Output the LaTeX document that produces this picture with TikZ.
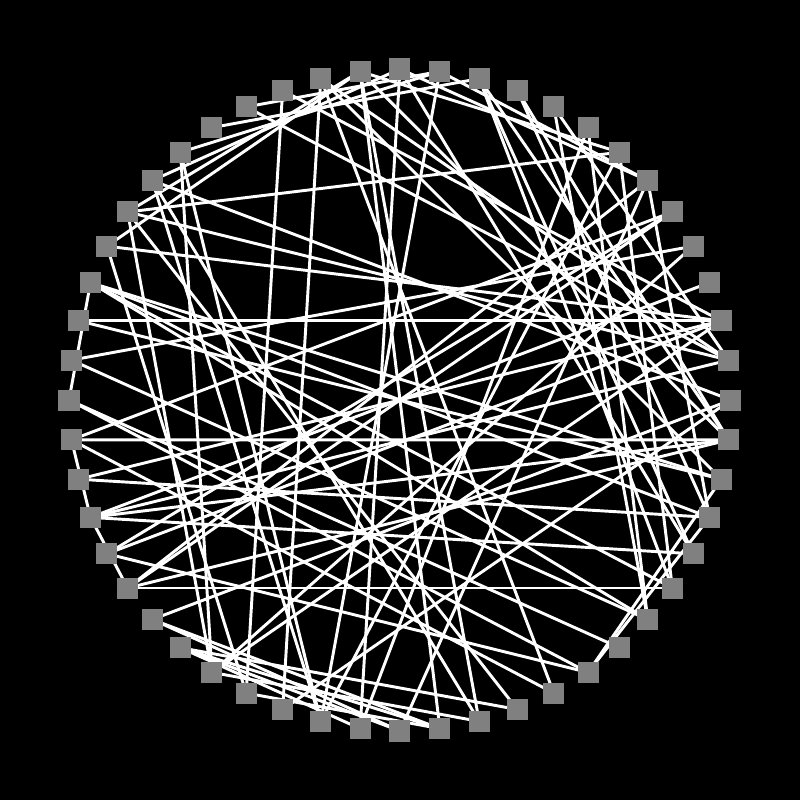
\documentclass[tikz,border=0pt]{standalone}
\definecolor{nodegray}{RGB}{128,128,128}
\pgfdeclarelayer{back}
\pgfdeclarelayer{edges}
\pgfsetlayers{back,edges,main}
\begin{document}
\begin{tikzpicture}[x=0.03cm,y=0.03cm,
  vert/.style={rectangle,fill=nodegray,minimum size=0.63cm,inner sep=0pt,draw=none},
  link/.style={white,line width=2.5pt}]
\useasboundingbox (-400,-400) rectangle (400,400);
\begin{pgfonlayer}{back}
\fill[black] (-400,-400) rectangle (400,400);
\end{pgfonlayer}
\foreach \k in {0,...,51}{
  \node[vert] (n\k) at ({90-6.9230769*\k}:331) {};
}
\begin{pgfonlayer}{edges}
\foreach \a/\b in {41/11,38/14,34/18,1/28,0/27,51/24,51/25,50/29,49/30,44/6,44/12,44/51,46/28,44/31,44/23,10/36,11/43,42/18,41/15,40/19,39/20,39/21,38/8,37/16,36/12,36/14,36/17,36/34,35/11,35/21,34/8,34/7,34/14,33/25,33/26,32/27,31/11,16/21,2/18,42/19,38/22,45/0,46/1,47/2,48/1,43/51,46/31,45/28,43/30,51/14,0/7,1/7,2/17,48/12,49/11,50/15,37/11,29/13,42/39,38/36,
51/6,50/12,28/6,26/7,35/8,45/13,45/24,42/15,40/9,50/22,32/26,31/9,30/25,2/14,0/17,6/18,7/16,3/16,4/19,15/21,42/16,
32/23,31/24,32/25,5/19,5/27,3/14,4/12,33/13}{
  \draw[link] (n\a.center) -- (n\b.center);
}
\end{pgfonlayer}
\end{tikzpicture}
\end{document}
